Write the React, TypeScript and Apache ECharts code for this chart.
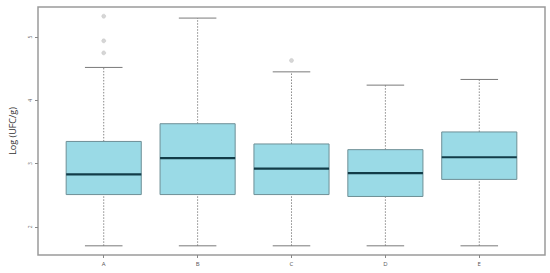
import React, { useEffect, useRef } from "react";
import * as echarts from "echarts";

const categories = ["A", "B", "C", "D", "E"];
// [low whisker, Q1, median, Q3, high whisker]
const boxValues = [
  [1.7, 2.51, 2.83, 3.35, 4.52],
  [1.7, 2.51, 3.085, 3.63, 5.3],
  [1.7, 2.51, 2.92, 3.31, 4.45],
  [1.7, 2.48, 2.85, 3.22, 4.24],
  [1.7, 2.75, 3.1, 3.5, 4.33],
];
// [category index (1-based), value]
const outliers = [
  [1, 5.33],
  [1, 4.94],
  [1, 4.75],
  [3, 4.63],
];
const yTicks = [2, 3, 4, 5];
const xTicks = [1, 2, 3, 4, 5];

export default function App() {
  const ref = useRef<HTMLDivElement>(null);
  useEffect(() => {
    if (!ref.current) return;
    const chart = echarts.init(ref.current, null, { renderer: "svg" });
    const boxData = boxValues.map((v, i) => [i + 1, ...v]);
    const yMin = 1.7 - 0.04 * (5.33 - 1.7);
    const yMax = 5.33 + 0.04 * (5.33 - 1.7);
    chart.setOption({
      animation: false,
      backgroundColor: "#ffffff",
      grid: {
        left: 36,
        top: 7,
        right: 5,
        bottom: 18,
        show: true,
        borderColor: "#9a9a9a",
        borderWidth: 1.5,
        backgroundColor: "transparent",
      },
      xAxis: {
        type: "value",
        min: 0.3,
        max: 5.7,
        splitLine: { show: false },
        axisLine: { show: false },
        axisTick: {
          show: true,
          customValues: xTicks,
          length: 3,
          lineStyle: { color: "#888" },
        },
        axisLabel: {
          customValues: xTicks,
          formatter: (v: number) => categories[Math.round(v) - 1] || "",
          fontSize: 6,
          color: "#555",
          margin: 6,
          fontFamily: "Open Sans, sans-serif",
        },
      },
      yAxis: {
        type: "value",
        min: yMin,
        max: yMax,
        name: "Log (UFC/g)",
        nameLocation: "middle",
        nameRotate: 90,
        nameGap: 21,
        nameTextStyle: {
          fontSize: 9,
          color: "#333",
          fontFamily: "Open Sans, sans-serif",
        },
        splitLine: { show: false },
        axisLine: { show: false },
        axisTick: {
          show: true,
          customValues: yTicks,
          length: 3,
          lineStyle: { color: "#888" },
        },
        axisLabel: {
          customValues: yTicks,
          rotate: 90,
          fontSize: 5,
          color: "#666",
          margin: 6,
          fontFamily: "Open Sans, sans-serif",
        },
      },
      series: [
        {
          type: "custom",
          data: boxData,
          encode: { x: 0, y: [1, 2, 3, 4, 5] },
          renderItem: (params: any, api: any) => {
            const x = api.value(0);
            const low = api.coord([x, api.value(1)]);
            const q1 = api.coord([x, api.value(2)]);
            const med = api.coord([x, api.value(3)]);
            const q3 = api.coord([x, api.value(4)]);
            const high = api.coord([x, api.value(5)]);
            const bw = api.size([0.8, 0])[0];
            const cw = api.size([0.4, 0])[0];
            const cx = low[0];
            const whisk = { stroke: "#8a8a8a", lineWidth: 1, lineDash: [1.5, 1.5] };
            const cap = { stroke: "#7a7a7a", lineWidth: 1 };
            return {
              type: "group",
              children: [
                { type: "line", shape: { x1: cx, y1: low[1], x2: cx, y2: q1[1] }, style: whisk },
                { type: "line", shape: { x1: cx, y1: q3[1], x2: cx, y2: high[1] }, style: whisk },
                { type: "line", shape: { x1: cx - cw / 2, y1: low[1], x2: cx + cw / 2, y2: low[1] }, style: cap },
                { type: "line", shape: { x1: cx - cw / 2, y1: high[1], x2: cx + cw / 2, y2: high[1] }, style: cap },
                {
                  type: "rect",
                  shape: { x: cx - bw / 2, y: q3[1], width: bw, height: q1[1] - q3[1] },
                  style: { fill: "#9adae6", stroke: "#6e8f96", lineWidth: 1 },
                },
                {
                  type: "line",
                  shape: { x1: cx - bw / 2, y1: med[1], x2: cx + bw / 2, y2: med[1] },
                  style: { stroke: "#123c48", lineWidth: 2.2 },
                },
              ],
            };
          },
        },
        {
          type: "scatter",
          data: outliers,
          symbol: "circle",
          symbolSize: 4,
          itemStyle: { color: "#cccccc", borderColor: "#bdbdbd", borderWidth: 0.5 },
        },
      ],
    });
    return () => chart.dispose();
  }, []);
  return (
    <div
      ref={ref}
      style={{ position: "fixed", left: 0, top: 0, width: 550, height: 273 }}
    />
  );
}
